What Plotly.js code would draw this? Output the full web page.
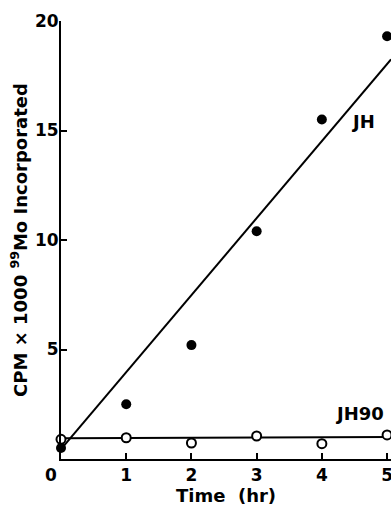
<!DOCTYPE html>
<html>
<head>
<meta charset="utf-8">
<script src="https://cdn.plot.ly/plotly-3.0.1.min.js"></script>
<style>html,body{margin:0;padding:0;background:#fff;}#chart{width:391px;height:506px;}</style>
</head>
<body>
<div id="chart"></div>
<script>
// Time (hr)
var timeHr = [0, 1, 2, 3, 4, 5];
// JH (filled circles), CPM x 1000
var jhCPM = [0.5, 2.5, 5.2, 10.4, 15.5, 19.3];
// JH90 (open circles), CPM x 1000
var jh90CPM = [0.9, 0.97, 0.73, 1.05, 0.7, 1.1];
// fitted lines drawn on the figure
var jhFitX = [0.03, 5.06];
var jhFitY = [0.55, 18.25];
var jh90FitX = [0.03, 5.06];
var jh90FitY = [0.95, 1.0];
// tick values
var xTicks = [1, 2, 3, 4, 5];
var yTicks = [5, 10, 15, 20];

var FONT = 'DejaVu Sans, Arial, sans-serif';

var traces = [
  {x: jhFitX, y: jhFitY, mode: 'lines', line: {color: '#000', width: 2}, hoverinfo: 'skip', cliponaxis: false},
  {x: jh90FitX, y: jh90FitY, mode: 'lines', line: {color: '#000', width: 2}, hoverinfo: 'skip', cliponaxis: false},
  {x: timeHr, y: jhCPM, mode: 'markers', name: 'JH', cliponaxis: false,
   marker: {symbol: 'circle', size: 10, color: '#000'}},
  {x: timeHr, y: jh90CPM, mode: 'markers', name: 'JH90', cliponaxis: false,
   marker: {symbol: 'circle', size: 9, color: '#fff', line: {color: '#000', width: 2}}}
];

var layout = {
  width: 391, height: 506,
  margin: {l: 61, r: 0, t: 21, b: 47},
  paper_bgcolor: '#fff', plot_bgcolor: '#fff',
  showlegend: false,
  font: {family: FONT, color: '#000', size: 17, weight: 'bold'},
  xaxis: {
    range: [0, 5.06], tickvals: xTicks, ticks: 'inside', ticklen: 6, tickwidth: 2, tickcolor: '#000',
    showline: true, linecolor: '#000', linewidth: 2, showgrid: false, zeroline: false,
    ticklabeloverflow: 'allow', automargin: false,
    tickfont: {family: FONT, size: 17, weight: 'bold'},
    title: {text: 'Time  (hr)', font: {family: FONT, size: 18, weight: 'bold'}, standoff: 4},
    fixedrange: true
  },
  yaxis: {
    range: [0, 20], tickvals: yTicks, ticks: 'inside', ticklen: 6, tickwidth: 2, tickcolor: '#000',
    showline: true, linecolor: '#000', linewidth: 2, showgrid: false, zeroline: false,
    automargin: false,
    tickfont: {family: FONT, size: 17, weight: 'bold'},
    ticklabelstandoff: -3,
    title: {text: 'CPM × 1000 <sup>99</sup>Mo Incorporated', font: {family: FONT, size: 18, weight: 'bold'}, standoff: 3},
    fixedrange: true
  },
  annotations: [
    {x: 4.63, y: 15.4, xref: 'x', yref: 'y', text: 'JH', showarrow: false, font: {family: FONT, size: 18, weight: 'bold'}},
    {x: 4.57, y: 2.1, xref: 'x', yref: 'y', text: 'JH90', showarrow: false, font: {family: FONT, size: 18, weight: 'bold'}},
    {x: -0.03, y: 0, xref: 'paper', yref: 'paper', text: '0', showarrow: false, xanchor: 'center', yanchor: 'top', yshift: -4, font: {family: FONT, size: 17, weight: 'bold'}}
  ]
};

Plotly.newPlot('chart', traces, layout, {displayModeBar: false, staticPlot: true});
</script>
</body>
</html>
